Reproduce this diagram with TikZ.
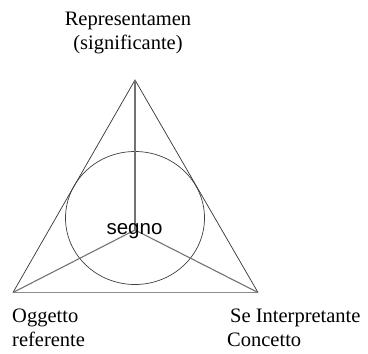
\documentclass[tikz,border=0pt]{standalone}
\usepackage{fontspec}
\setmainfont{Liberation Serif}
\setsansfont{Liberation Sans}
\usepackage{tikz}
\usepackage{xcolor}

\tikzset{
  lbl/.style={inner sep=0pt, font=\fontsize{20.5}{24}\selectfont},
  spoke/.style={draw=black!55, line width=1.1pt},
}

\begin{document}
\begin{tikzpicture}[x=1pt, y=-1pt]
\useasboundingbox (0,0) rectangle (368,354);
\coordinate (top) at (135,80);
\coordinate (ogg) at (13,292.5);
\coordinate (int) at (258,292.5);
\coordinate (mid) at (135,230);
\draw[black!80, line width=0.7pt] (ogg) -- (top) -- (int);
\draw[black!45, line width=1.1pt] (ogg) -- (int);
\draw[black!75, line width=0.7pt] (135,218) ellipse (69.5 and 66.5);
\draw[spoke] (top) -- (mid);
\draw[spoke] (mid) -- (ogg);
\draw[spoke] (mid) -- (int);
\node[lbl, font=\sffamily\fontsize{20.5}{24}\selectfont] (segno) at (134.5,231) {segno};
\node[lbl, align=center] (rep) at (128,33) {Representamen\\(significante)};
\node[lbl, align=left, anchor=west] (oggetto) at (12,328) {Oggetto\\referente};
\node[lbl, align=left, anchor=west] (interp) at (227,328) {\hspace*{3pt}Se Interpretante\\Concetto};
\end{tikzpicture}
\end{document}
